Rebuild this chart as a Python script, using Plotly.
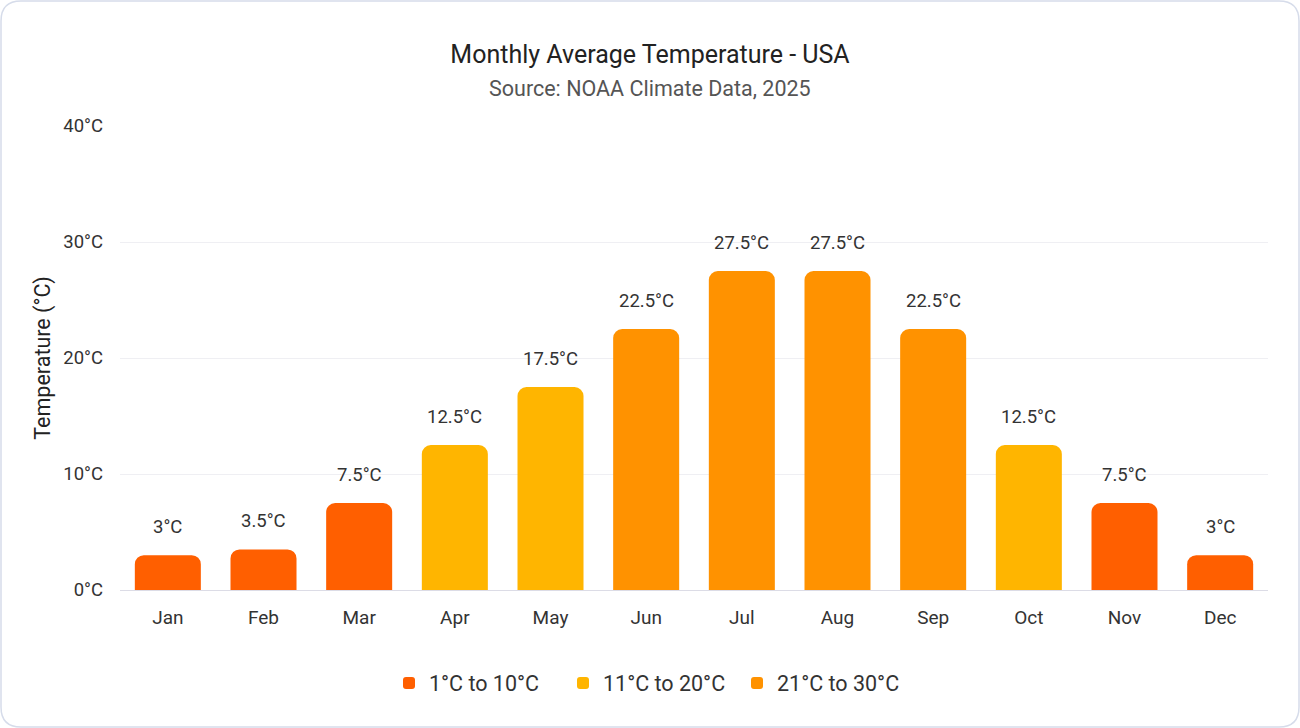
import plotly.graph_objects as go

months = ["Jan", "Feb", "Mar", "Apr", "May", "Jun", "Jul", "Aug", "Sep", "Oct", "Nov", "Dec"]
temps = [3, 3.5, 7.5, 12.5, 17.5, 22.5, 27.5, 27.5, 22.5, 12.5, 7.5, 3]
band_names = ["1°C to 10°C", "11°C to 20°C", "21°C to 30°C"]
band_colors = ["#FF5F00", "#FFB500", "#FF9200"]
band_limits = [(0, 10), (10, 20), (20, 30)]
title_text = "Monthly Average Temperature - USA"
subtitle_text = "Source: NOAA Climate Data, 2025"

W, H = 1300, 728
L, R, T, B = 120, 32, 126, 138

fig = go.Figure()
for name, color, (lo, hi) in zip(band_names, band_colors, band_limits):
    ys = [t if (lo < t <= hi) else None for t in temps]
    fig.add_trace(go.Bar(
        x=months, y=ys, name=name,
        marker=dict(color=color, line=dict(width=0)),
        hovertemplate="%{x}: %{y}°C<extra></extra>",
    ))

pw, ph = W - L - R, H - T - B
def fx(px):
    return (px - L) / pw
def fy(py):
    return (H - B - py) / ph

annotations = []
for m, t in zip(months, temps):
    annotations.append(dict(x=m, y=t, xref="x", yref="y", text=f"{t}°C", showarrow=False,
                            yanchor="bottom", yshift=15,
                            font=dict(size=18.5, color="#333333")))
annotations.append(dict(x=fx(650), y=fy(88), xref="paper", yref="paper", text=subtitle_text,
                        showarrow=False, xanchor="center", yanchor="middle",
                        font=dict(size=21.5, color="#555555")))

x0, x1, y0, y1 = fx(1), fx(W - 1), fy(1), fy(H - 1)
rx, ry = 20 / pw, 20 / ph
path = (f"M {x0+rx},{y0} L {x1-rx},{y0} Q {x1},{y0} {x1},{y0-ry} "
        f"L {x1},{y1+ry} Q {x1},{y1} {x1-rx},{y1} L {x0+rx},{y1} "
        f"Q {x0},{y1} {x0},{y1+ry} L {x0},{y0-ry} Q {x0},{y0} {x0+rx},{y0} Z")

fig.update_layout(
    width=W, height=H,
    margin=dict(l=L, r=R, t=T, b=B),
    paper_bgcolor="white", plot_bgcolor="white",
    font=dict(family="Roboto", size=18, color="#333333"),
    barmode="overlay", bargap=0.31, barcornerradius=9,
    title=dict(
        text=title_text,
        x=0.5, xanchor="center", xref="container",
        y=1 - 54 / H, yanchor="middle", yref="container",
        font=dict(size=25, color="#222222"),
    ),
    xaxis=dict(showgrid=False, showline=True, linecolor="#DCDCE6", linewidth=1,
               tickfont=dict(size=19, color="#333333"), ticks="", fixedrange=True,
               ticklabelstandoff=10),
    yaxis=dict(range=[0, 40], dtick=10, ticksuffix="°C", gridcolor="#EFEFF3",
               zeroline=False, ticks="", tickfont=dict(size=18.5, color="#333333"),
               ticklabelstandoff=16, fixedrange=True,
               title=dict(text="Temperature (°C)", font=dict(size=21.5, color="#222222"), standoff=6)),
    legend=dict(orientation="h", x=fx(650), xanchor="center", y=fy(683), yanchor="middle",
                font=dict(size=21.5, color="#333333"), itemwidth=30, traceorder="normal",
                entrywidth=129, entrywidthmode="pixels"),
    annotations=annotations,
    shapes=[dict(type="path", xref="paper", yref="paper", path=path,
                 line=dict(color="#D6DCEA", width=1.5), fillcolor="rgba(0,0,0,0)", layer="below")],
    showlegend=True,
)

fig.write_html("out.html")
